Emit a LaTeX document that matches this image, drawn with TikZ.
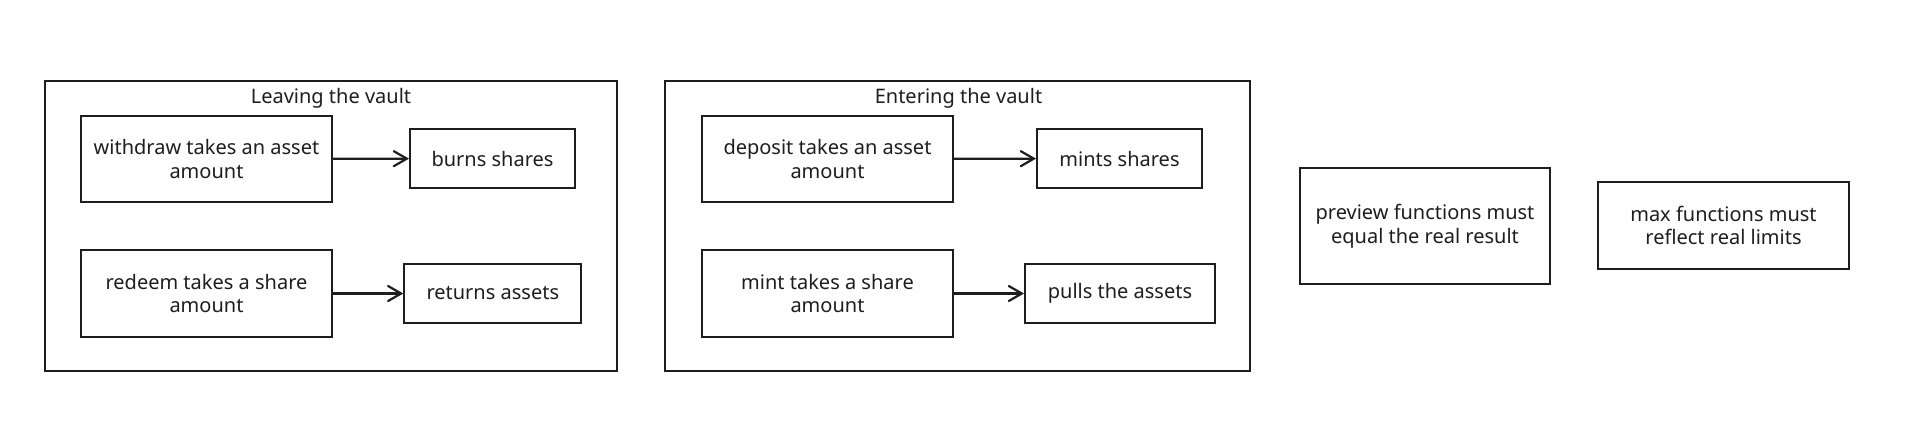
\documentclass[tikz,border=0pt]{standalone}
\usepackage{fontspec}
\setmainfont{Noto Sans}
\usetikzlibrary{arrows.meta}
\definecolor{ink}{HTML}{1E1E1E}
\begin{document}
\begin{tikzpicture}[x=1pt,y=-1pt,
  box/.style={draw=ink, line width=2pt, rectangle, inner sep=0pt, align=center, text=ink, font=\fontsize{20}{23.5}\selectfont},
  frame/.style={draw=ink, line width=2pt, rectangle, inner sep=0pt},
  grouptitle/.style={text=ink, inner sep=0pt, font=\fontsize{20}{23.5}\selectfont},
  conn/.style={draw=ink, line width=2.2pt, line cap=round, -{Straight Barb[length=13pt,width=15pt,line cap=round]}}]
\path[fill=white, use as bounding box] (0,0) rectangle (1920,424);

% Leaving the vault
\node[frame, minimum width=572pt, minimum height=290pt] (leave) at (331,226) {};
\node[grouptitle] (leavetitle) at (331,98) {Leaving the vault};
\node[box, minimum width=251pt, minimum height=86pt] (withdraw) at (206.5,159) {withdraw takes an asset\\amount};
\node[box, minimum width=165pt, minimum height=59pt] (burns) at (492.5,158.5) {burns shares};
\node[box, minimum width=251pt, minimum height=87pt] (redeem) at (206.5,293.5) {redeem takes a share\\amount};
\node[box, minimum width=177pt, minimum height=59pt] (returns) at (492.8,293.5) {returns assets};
\draw[conn] (withdraw) -- (burns);
\draw[conn] (redeem) -- (returns);

% Entering the vault
\node[frame, minimum width=585pt, minimum height=290pt] (enter) at (957.5,226) {};
\node[grouptitle] (entertitle) at (958.5,98) {Entering the vault};
\node[box, minimum width=251pt, minimum height=86pt] (deposit) at (827.5,159) {deposit takes an asset\\amount};
\node[box, minimum width=165pt, minimum height=59pt] (mints) at (1119.5,158.5) {mints shares};
\node[box, minimum width=251pt, minimum height=87pt] (mint) at (827.5,293.5) {mint takes a share\\amount};
\node[box, minimum width=190pt, minimum height=59pt] (pulls) at (1120,293.5) {pulls the assets};
\draw[conn] (deposit) -- (mints);
\draw[conn] (mint) -- (pulls);

% standalone notes
\node[box, minimum width=250pt, minimum height=116pt] (preview) at (1425,226) {preview functions must\\equal the real result};
\node[box, minimum width=251pt, minimum height=87pt] (max) at (1723.5,225.5) {max functions must\\reflect real limits};
\end{tikzpicture}
\end{document}
